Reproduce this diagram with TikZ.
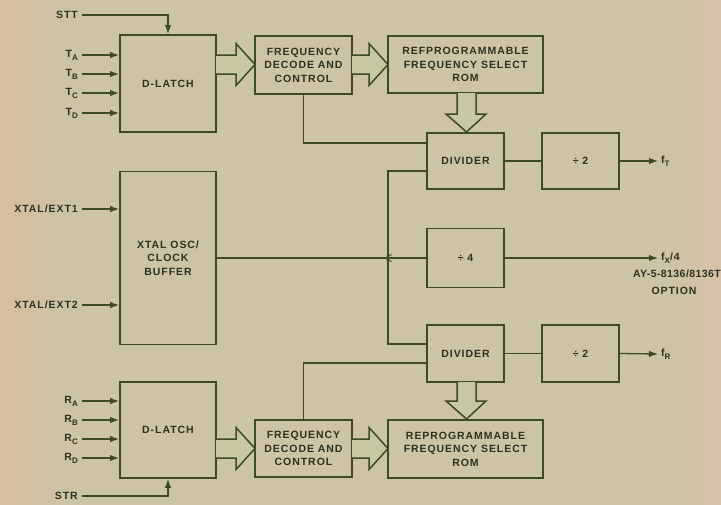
\documentclass[tikz,border=0pt]{standalone}
\usepackage{fontspec}
\newfontfamily\lbl{Liberation Sans}[LetterSpace=9]
\newfontfamily\lbln{Liberation Sans}[LetterSpace=4]
\usetikzlibrary{arrows.meta}
\definecolor{bg}{HTML}{CDC3A5}
\definecolor{bgl}{HTML}{D8BD9E}
\definecolor{bgr}{HTML}{D6C1A8}
\definecolor{lc}{HTML}{3C4A26}
\definecolor{tc}{HTML}{2C321F}
\definecolor{fc}{HTML}{C9C7A1}
\tikzset{
  txt/.style={font=\lbl\bfseries\fontsize{10.5}{13.5}\selectfont, text=tc},
  box/.style={draw=lc, line width=1.9pt, inner sep=0pt, align=center, txt},
  sig/.style={draw=lc, line width=1.3pt},
  arr/.style={sig, -{Latex[length=9pt,width=6.5pt]}},
  fatfill/.style={fill=fc},
  fatline/.style={draw=lc, line width=1.5pt, line join=miter},
  inlab/.style={txt, anchor=east, inner xsep=4pt, inner ysep=1pt},
  outlab/.style={txt, anchor=west, inner xsep=3pt, inner ysep=1pt},
}
\newcommand{\sbs}[1]{\raisebox{-3pt}{\fontsize{8}{8}\selectfont #1}}
\begin{document}
\begin{tikzpicture}[x=1pt,y=-1pt]
\useasboundingbox (0,0) rectangle (721,504);
\fill[bg] (-3,-3) rectangle (724,507);
\shade[left color=bgl, right color=bg] (-3,-3) rectangle (60,507);
\shade[left color=bg, right color=bgr] (680,-3) rectangle (724,507);

% boxes
\node[box, minimum width=96pt, minimum height=97pt] (dl1) at (168,83.5) {D-LATCH};
\node[box, minimum width=97pt, minimum height=58pt] (fd1) at (303.5,65) {FREQUENCY\\DECODE AND\\CONTROL};
\node[box, minimum width=155pt, minimum height=57pt] (rom1) at (465.5,64.5) {REFPROGRAMMABLE\\FREQUENCY SELECT\\ROM};
\node[box, minimum width=77pt, minimum height=56pt] (div1) at (465.5,161) {DIVIDER};
\node[box, minimum width=77pt, minimum height=56pt] (d2a) at (580.5,161) {÷ 2};
\node[box, minimum width=77pt, minimum height=59pt] (d4) at (465.5,258) {÷ 4};
\node[box, minimum width=96pt, minimum height=173pt] (xt) at (168,258) {XTAL OSC/\\CLOCK\\BUFFER};
\node[box, minimum width=77pt, minimum height=57pt] (div2) at (465.5,353.5) {DIVIDER};
\node[box, minimum width=77pt, minimum height=57pt] (d2b) at (580.5,353.5) {÷ 2};
\node[box, minimum width=96pt, minimum height=96pt] (dl2) at (168,430) {D-LATCH};
\node[box, minimum width=97pt, minimum height=57pt] (fd2) at (303.5,448.5) {FREQUENCY\\DECODE AND\\CONTROL};
\node[box, minimum width=155pt, minimum height=58pt] (rom2) at (465.5,449) {REPROGRAMMABLE\\FREQUENCY SELECT\\ROM};

% input labels
\node[inlab] (stt) at (82,15) {STT};
\node[inlab] (ta) at (82,55) {T\sbs{A}};
\node[inlab] (tb) at (82,74) {T\sbs{B}};
\node[inlab] (tcc) at (82,93) {T\sbs{C}};
\node[inlab] (td) at (82,113) {T\sbs{D}};
\node[inlab] (x1) at (82,209) {XTAL/EXT1};
\node[inlab] (x2) at (82,305) {XTAL/EXT2};
\node[inlab] (ra) at (82,401) {R\sbs{A}};
\node[inlab] (rb) at (82,420) {R\sbs{B}};
\node[inlab] (rc) at (82,439) {R\sbs{C}};
\node[inlab] (rd) at (82,458) {R\sbs{D}};
\node[inlab] (str) at (82,496) {STR};

% output labels
\node[outlab] (ft) at (658,161) {f\sbs{T}};
\node[outlab] (fx) at (658,258) {f\sbs{X}/4};
\node[txt, anchor=east, inner sep=0pt, font=\lbln\bfseries\fontsize{10.5}{13.5}\selectfont] (ay) at (721,274) {AY-5-8136/8136T};
\node[txt, inner sep=0pt] (opt) at (674,291) {OPTION};
\node[outlab] (fr) at (658,354) {f\sbs{R}};

% input connectors
\draw[arr] (stt.east) -| (dl1.north);
\foreach \n in {ta,tb,tcc,td}{\draw[arr] (\n.east) -- (\n.east -| dl1.west);}
\foreach \n in {x1,x2}{\draw[arr] (\n.east) -- (\n.east -| xt.west);}
\foreach \n in {ra,rb,rc,rd}{\draw[arr] (\n.east) -- (\n.east -| dl2.west);}
\draw[arr] (str.east) -| (dl2.south);

% internal connectors
\draw[sig] (fd1.south) |- ([yshift=-11pt]div1.north west);
\draw[sig] (fd2.north) |- ([yshift=-9.5pt]div2.west);
\coordinate (bt) at (388,171);
\coordinate (bb) at (388,344);
\coordinate (j) at (388,258);
\draw[sig] (div1.west |- bt) -- (bt) -- (bb) -- (div2.west |- bb);
\draw[sig] (xt.east) -- (d4.west);
\draw[sig, line width=1pt] ([shift={(3.5,-3.5)}]j) -- ([xshift=-3pt]j) -- ([shift={(3.5,3.5)}]j);
\draw[sig] (div1.east) -- (d2a.west);
\draw[sig] (div2.east) -- (d2b.west);
\draw[arr] (d2a.east) -- (ft.west);
\draw[arr] (d4.east) -- (fx.west);
\draw[arr] (d2b.east) -- (fr.west);

% fat arrows
\foreach \xa/\xb/\c in {216/255/64.5, 352/388/64.5, 216/255/448.5, 352/388/448.5}{
  \fill[fatfill] (\xa,\c-9.5) -- (\xb-19,\c-9.5) -- (\xb-19,\c-21) -- (\xb,\c) -- (\xb-19,\c+21) -- (\xb-19,\c+9.5) -- (\xa,\c+9.5) -- cycle;
  \draw[fatline] (\xa,\c-9.5) -- (\xb-19,\c-9.5) -- (\xb-19,\c-21) -- (\xb,\c) -- (\xb-19,\c+21) -- (\xb-19,\c+9.5) -- (\xa,\c+9.5);
}
\foreach \ya/\yb in {93/132, 382/419}{
  \fill[fatfill] (457,\ya) -- (457,\yb-18) -- (446,\yb-18) -- (466.5,\yb) -- (486,\yb-18) -- (476,\yb-18) -- (476,\ya) -- cycle;
  \draw[fatline] (457,\ya) -- (457,\yb-18) -- (446,\yb-18) -- (466.5,\yb) -- (486,\yb-18) -- (476,\yb-18) -- (476,\ya);
}
\end{tikzpicture}
\end{document}
